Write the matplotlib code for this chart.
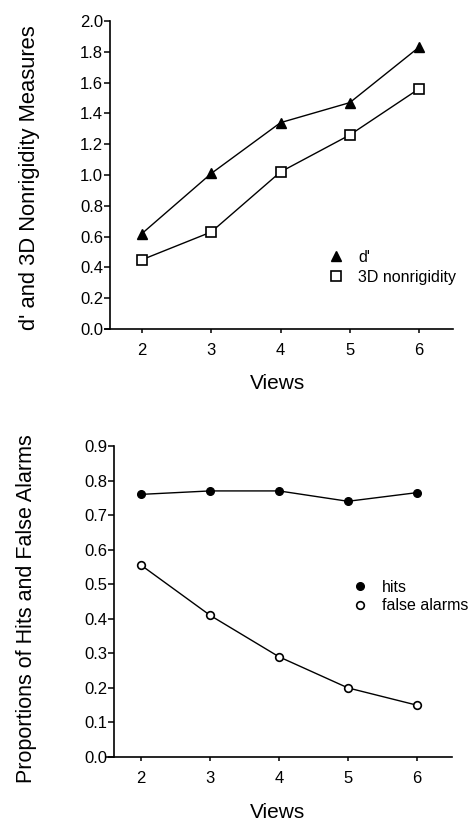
import numpy as np
import matplotlib
matplotlib.use('Agg')
import matplotlib.pyplot as plt
from matplotlib.lines import Line2D

plt.rcParams['font.family'] = ['Liberation Sans', 'DejaVu Sans']

views = [2, 3, 4, 5, 6]
dprime = [0.62, 1.01, 1.34, 1.47, 1.83]
nonrigid = [0.45, 0.63, 1.02, 1.26, 1.56]
hits = [0.76, 0.77, 0.77, 0.74, 0.765]
false_alarms = [0.555, 0.41, 0.29, 0.20, 0.15]

W, H = 476, 822
fig = plt.figure(figsize=(W / 100, H / 100), dpi=100)

def px_axes(x0, x1, ytop, ybot):
    return fig.add_axes([x0 / W, 1 - ybot / H, (x1 - x0) / W, (ybot - ytop) / H])

def style_axes(ax, spine_x):
    ax.spines['top'].set_visible(False)
    ax.spines['right'].set_visible(False)
    ax.spines['left'].set_position(('data', spine_x))
    for s in ('left', 'bottom'):
        ax.spines[s].set_linewidth(1.2)
    ax.tick_params(direction='out', length=4, width=1.1, labelsize=12)
    ax.tick_params(axis='y', pad=1)
    ax.tick_params(axis='x', length=3, pad=7)
    ax.set_xticks(views)

# top panel
ax1 = px_axes(105, 453, 21, 329)
ax1.plot(views, dprime, color='black', lw=1.0, marker='^', ms=7, mfc='black', mec='black')
ax1.plot(views, nonrigid, color='black', lw=1.0, marker='s', ms=7.5, mfc='white', mec='black', mew=1.2)
ax1.set_xlim(1.466, 6.49)
ax1.set_ylim(0, 2.0)
ax1.set_yticks(np.arange(0, 2.01, 0.2))
ax1.set_yticklabels(['%.1f' % v for v in np.arange(0, 2.01, 0.2)])
style_axes(ax1, 1.54)
h1 = [Line2D([], [], ls='none', marker='^', ms=7, color='black'),
      Line2D([], [], ls='none', marker='s', ms=7.5, mfc='white', mec='black', mew=1.2)]
ax1.legend(h1, ["d'", '3D nonrigidity'], loc='upper left', frameon=False, fontsize=11.5,
           bbox_to_anchor=((318 - 105) / 348, (329 - 242) / 308),
           handlelength=1.2, handletextpad=0.8, labelspacing=0.3, borderpad=0)
fig.text(278 / W, 1 - 383 / H, 'Views', fontsize=15, ha='center', va='center')
fig.text(30 / W, 1 - 178 / H, "d' and 3D Nonrigidity Measures", fontsize=15.8,
         rotation=90, ha='center', va='center')

# bottom panel
ax2 = px_axes(106, 452, 446, 757)
ax2.plot(views, hits, color='black', lw=1.0, marker='o', ms=5.5, mfc='black', mec='black')
ax2.plot(views, false_alarms, color='black', lw=1.0, marker='o', ms=5.5, mfc='white', mec='black', mew=1.2)
ax2.set_xlim(1.49, 6.51)
ax2.set_ylim(0, 0.9)
ax2.set_yticks(np.arange(0, 0.91, 0.1))
ax2.set_yticklabels(['%.1f' % v for v in np.arange(0, 0.91, 0.1)])
style_axes(ax2, 1.61)
h2 = [Line2D([], [], ls='none', marker='o', ms=5.5, color='black'),
      Line2D([], [], ls='none', marker='o', ms=5.5, mfc='white', mec='black', mew=1.2)]
ax2.legend(h2, ['hits', 'false alarms'], loc='upper left', frameon=False, fontsize=11.5,
           bbox_to_anchor=((344 - 106) / 346, (757 - 572) / 311),
           handlelength=1.0, handletextpad=0.9, labelspacing=0.2, borderpad=0)
fig.text(278 / W, 1 - 812 / H, 'Views', fontsize=15, ha='center', va='center')
fig.text(27 / W, 1 - 609 / H, 'Proportions of Hits and False Alarms', fontsize=15.5,
         rotation=90, ha='center', va='center')

fig.savefig('out.png', dpi=100)
